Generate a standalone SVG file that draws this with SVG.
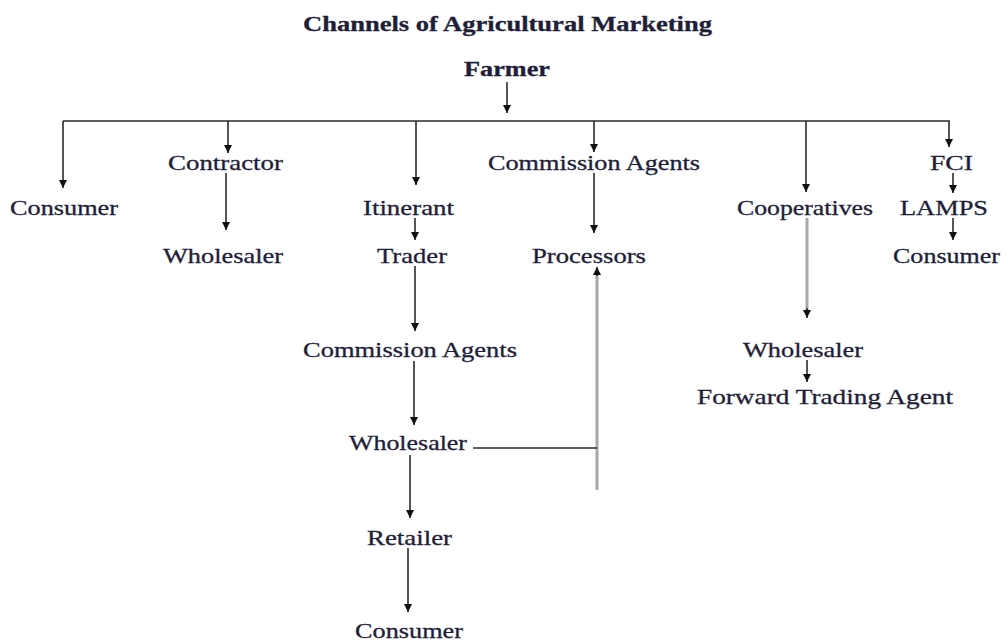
<svg xmlns="http://www.w3.org/2000/svg" width="1008" height="641" viewBox="0 0 1008 641">
<style>
.lbl{font-family:"Liberation Serif","Times New Roman",serif;font-size:21px;fill:#1e1e38;stroke:#1e1e38;stroke-width:0.3}
.bold{font-weight:bold;font-size:21px}
.ln{stroke:#2a2a2a;stroke-width:1.6;fill:none}
.gr{stroke:#a8a8a8;stroke-width:3;fill:none}
</style>
<defs>
<marker id="ah" markerUnits="userSpaceOnUse" markerWidth="9" markerHeight="9" refX="8" refY="4.5" orient="auto">
<path d="M0,0.5 L8,4.5 L0,8.5 z" fill="#111"/>
</marker>
</defs>
<rect width="1008" height="641" fill="#fff"/>
<g id="connectors">
<line class="ln" x1="507" y1="82" x2="507" y2="113" marker-end="url(#ah)"/>
<line class="ln" x1="63" y1="121" x2="950" y2="121"/>
<line class="ln" x1="63" y1="121" x2="63" y2="188" marker-end="url(#ah)"/>
<line class="ln" x1="228" y1="121" x2="228" y2="153" marker-end="url(#ah)"/>
<line class="ln" x1="226" y1="173" x2="226" y2="230" marker-end="url(#ah)"/>
<line class="ln" x1="416" y1="121" x2="416" y2="185" marker-end="url(#ah)"/>
<line class="ln" x1="415" y1="218" x2="415" y2="240" marker-end="url(#ah)"/>
<line class="ln" x1="415" y1="266" x2="415" y2="331" marker-end="url(#ah)"/>
<line class="ln" x1="414" y1="361" x2="414" y2="425" marker-end="url(#ah)"/>
<line class="ln" x1="410" y1="455" x2="410" y2="518" marker-end="url(#ah)"/>
<line class="ln" x1="408" y1="548" x2="408" y2="612" marker-end="url(#ah)"/>
<line class="ln" x1="594" y1="121" x2="594" y2="152" marker-end="url(#ah)"/>
<line class="ln" x1="594" y1="173" x2="594" y2="233" marker-end="url(#ah)"/>
<line class="gr" x1="597" y1="490" x2="597" y2="274"/>
<line class="ln" x1="597" y1="276" x2="597" y2="267" marker-end="url(#ah)"/>
<line class="ln" x1="473" y1="448" x2="597" y2="448"/>
<line class="ln" x1="806" y1="121" x2="806" y2="192" marker-end="url(#ah)"/>
<line class="gr" x1="807" y1="218" x2="807" y2="311"/>
<line class="ln" x1="807" y1="308" x2="807" y2="318" marker-end="url(#ah)"/>
<line class="ln" x1="807" y1="360" x2="807" y2="382" marker-end="url(#ah)"/>
<line class="ln" x1="949" y1="121" x2="949" y2="147" marker-end="url(#ah)"/>
<line class="ln" x1="953" y1="173" x2="953" y2="193" marker-end="url(#ah)"/>
<line class="ln" x1="953" y1="218" x2="953" y2="240" marker-end="url(#ah)"/>
</g>
<g id="title"><text class="lbl bold" x="303" y="31" textLength="409" lengthAdjust="spacingAndGlyphs">Channels of Agricultural Marketing</text></g>
<g id="farmer"><text class="lbl bold" x="464" y="76" textLength="86" lengthAdjust="spacingAndGlyphs">Farmer</text></g>
<g id="consumer1"><text class="lbl" x="10" y="215" textLength="108" lengthAdjust="spacingAndGlyphs">Consumer</text></g>
<g id="contractor"><text class="lbl" x="168" y="170" textLength="115" lengthAdjust="spacingAndGlyphs">Contractor</text></g>
<g id="wholesaler1"><text class="lbl" x="163" y="263" textLength="120" lengthAdjust="spacingAndGlyphs">Wholesaler</text></g>
<g id="itinerant"><text class="lbl" x="363" y="215" textLength="91" lengthAdjust="spacingAndGlyphs">Itinerant</text></g>
<g id="trader"><text class="lbl" x="377" y="263" textLength="70" lengthAdjust="spacingAndGlyphs">Trader</text></g>
<g id="commission2"><text class="lbl" x="303" y="357" textLength="214" lengthAdjust="spacingAndGlyphs">Commission Agents</text></g>
<g id="wholesaler2"><text class="lbl" x="349" y="450" textLength="118" lengthAdjust="spacingAndGlyphs">Wholesaler</text></g>
<g id="retailer"><text class="lbl" x="367" y="545" textLength="85" lengthAdjust="spacingAndGlyphs">Retailer</text></g>
<g id="consumer2"><text class="lbl" x="355" y="638" textLength="108" lengthAdjust="spacingAndGlyphs">Consumer</text></g>
<g id="commission1"><text class="lbl" x="488" y="170" textLength="212" lengthAdjust="spacingAndGlyphs">Commission Agents</text></g>
<g id="processors"><text class="lbl" x="532" y="263" textLength="114" lengthAdjust="spacingAndGlyphs">Processors</text></g>
<g id="cooperatives"><text class="lbl" x="737" y="215" textLength="136" lengthAdjust="spacingAndGlyphs">Cooperatives</text></g>
<g id="wholesaler3"><text class="lbl" x="743" y="357" textLength="120" lengthAdjust="spacingAndGlyphs">Wholesaler</text></g>
<g id="forward"><text class="lbl" x="697" y="404" textLength="256" lengthAdjust="spacingAndGlyphs">Forward Trading Agent</text></g>
<g id="fci"><text class="lbl" x="930" y="170" textLength="43" lengthAdjust="spacingAndGlyphs">FCI</text></g>
<g id="lamps"><text class="lbl" x="900" y="215" textLength="88" lengthAdjust="spacingAndGlyphs">LAMPS</text></g>
<g id="consumer3"><text class="lbl" x="893" y="263" textLength="107" lengthAdjust="spacingAndGlyphs">Consumer</text></g>
</svg>
